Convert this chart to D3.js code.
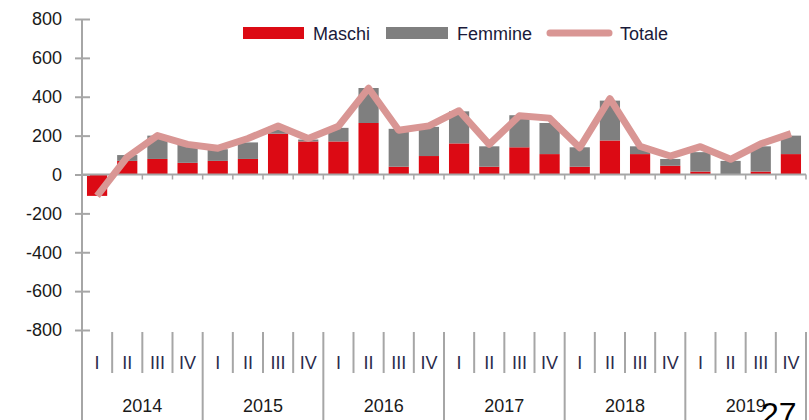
<!DOCTYPE html>
<html>
<head>
<meta charset="utf-8">
<script src="https://cdn.jsdelivr.net/npm/d3@7"></script>
<style>
  body { margin: 0; background: #fff; }
  svg text { font-family: "Liberation Sans", Arial, sans-serif; }
</style>
</head>
<body>
<svg id="chart" width="809" height="420"></svg>
<script>
// quarters 2014 I .. 2019 IV
var years = ["2014", "2015", "2016", "2017", "2018", "2019"];
var quarterNames = ["I", "II", "III", "IV"];
var maschi  = [-110, 70, 80, 60, 70, 80, 210, 170, 170, 265, 40, 95, 160, 40, 140, 105, 40, 175, 105, 45, 15, 0, 15, 105];
var femmine = [0, 30, 120, 100, 60, 85, 35, 10, 70, 180, 195, 150, 165, 105, 165, 160, 100, 205, 40, 35, 100, 70, 130, 95];
var totale  = [-110, 90, 200, 155, 135, 185, 250, 185, 248, 444, 228, 250, 328, 155, 302, 290, 138, 390, 145, 95, 143, 78, 158, 210];
var yTicks = [-800, -600, -400, -200, 0, 200, 400, 600, 800];

var red = "#dc0a14", grey = "#7f7f7f", pink = "#d99694", axisCol = "#a6a6a6";

var svg = d3.select("#chart");

var data = [];
years.forEach(function(y, yi){
  quarterNames.forEach(function(q, qi){
    var i = yi*4 + qi;
    data.push({key: y + "-" + q, year: y, q: q, maschi: maschi[i], femmine: femmine[i], totale: totale[i]});
  });
});

var x = d3.scaleBand()
    .domain(data.map(function(d){ return d.key; }))
    .range([82, 806])
    .paddingInner(0.33)
    .paddingOuter(0.165);

var y = d3.scaleLinear()
    .domain([-800, 800])
    .range([330, 19]);

var step = x.step();
var y0 = y(0);

// bars
var stack = d3.stack()
    .keys(["maschi", "femmine"])
    .offset(d3.stackOffsetDiverging);
var series = stack(data);
var colors = {maschi: red, femmine: grey};

svg.append("g").selectAll("g")
  .data(series).enter().append("g")
    .attr("fill", function(s){ return colors[s.key]; })
  .selectAll("rect")
  .data(function(s){ return s; }).enter().append("rect")
    .attr("x", function(d){ return x(d.data.key); })
    .attr("width", x.bandwidth())
    .attr("y", function(d){ return y(Math.max(d[0], d[1])); })
    .attr("height", function(d){ return Math.abs(y(d[0]) - y(d[1])); });

// y axis
var yAxis = d3.axisLeft(y)
    .tickValues(yTicks)
    .tickFormat(function(d){ return String(d); })
    .tickSize(7)
    .tickPadding(13);

var gy = svg.append("g")
    .attr("transform", "translate(82,0)")
    .call(yAxis);
gy.select(".domain").remove();
gy.selectAll(".tick line").attr("x1", 8).attr("stroke", axisCol).attr("stroke-width", 2);
gy.selectAll(".tick text")
    .style("font-size", "18px")
    .attr("fill", "#1a1a1a");

svg.append("line")
    .attr("x1", 82).attr("x2", 82)
    .attr("y1", y(800)).attr("y2", 420)
    .attr("stroke", axisCol).attr("stroke-width", 2);

// x axis line at zero
svg.append("line")
    .attr("x1", 82).attr("x2", 806)
    .attr("y1", y0).attr("y2", y0)
    .attr("stroke", axisCol).attr("stroke-width", 2);

// small ticks and category separators
d3.range(1, data.length + 1).forEach(function(i){
  var bx = x.range()[0] + i*step;
  svg.append("line")
      .attr("x1", bx).attr("x2", bx)
      .attr("y1", y0).attr("y2", y0 + 5)
      .attr("stroke", axisCol).attr("stroke-width", 1.5);
  var isYear = (i % 4 === 0);
  svg.append("line")
      .attr("x1", bx).attr("x2", bx)
      .attr("y1", 332).attr("y2", isYear ? 420 : 373)
      .attr("stroke", axisCol).attr("stroke-width", 2);
});

// quarter labels
svg.append("g").selectAll("text")
  .data(data).enter().append("text")
    .attr("x", function(d){ return x(d.key) + x.bandwidth()/2; })
    .attr("y", 369)
    .attr("text-anchor", "middle")
    .style("font-size", "18px")
    .attr("fill", "#2a2a4a")
    .text(function(d){ return d.q; });

// year labels
svg.append("g").selectAll("text")
  .data(years).enter().append("text")
    .attr("x", function(d, i){ return x.range()[0] + (i*4 + 2)*step; })
    .attr("y", 412)
    .attr("text-anchor", "middle")
    .style("font-size", "18px")
    .attr("fill", "#1a1a1a")
    .text(function(d){ return d; });

// totale line
var line = d3.line()
    .x(function(d){ return x(d.key) + x.bandwidth()/2; })
    .y(function(d){ return y(d.totale); });

svg.append("path")
    .datum(data)
    .attr("d", line)
    .attr("fill", "none")
    .attr("stroke", pink)
    .attr("stroke-width", 7)
    .attr("stroke-linejoin", "round");

// legend
var legend = svg.append("g");
legend.append("rect").attr("x", 243).attr("y", 27).attr("width", 61).attr("height", 12).attr("fill", red);
legend.append("text").attr("x", 313).attr("y", 39.5).style("font-size", "18px").attr("fill", "#1a1a3a").text("Maschi");
legend.append("rect").attr("x", 386).attr("y", 27).attr("width", 62).attr("height", 12).attr("fill", grey);
legend.append("text").attr("x", 457).attr("y", 39.5).style("font-size", "18px").attr("fill", "#1a1a3a").text("Femmine");
legend.append("line").attr("x1", 550).attr("x2", 609).attr("y1", 33).attr("y2", 33)
    .attr("stroke", pink).attr("stroke-width", 7).attr("stroke-linecap", "round");
legend.append("text").attr("x", 620).attr("y", 39.5).style("font-size", "18px").attr("fill", "#1a1a3a").text("Totale");

// page number
svg.append("text")
    .attr("x", 761).attr("y", 425)
    .style("font-size", "32px")
    .attr("fill", "#000")
    .text("27");
</script>
</body>
</html>
